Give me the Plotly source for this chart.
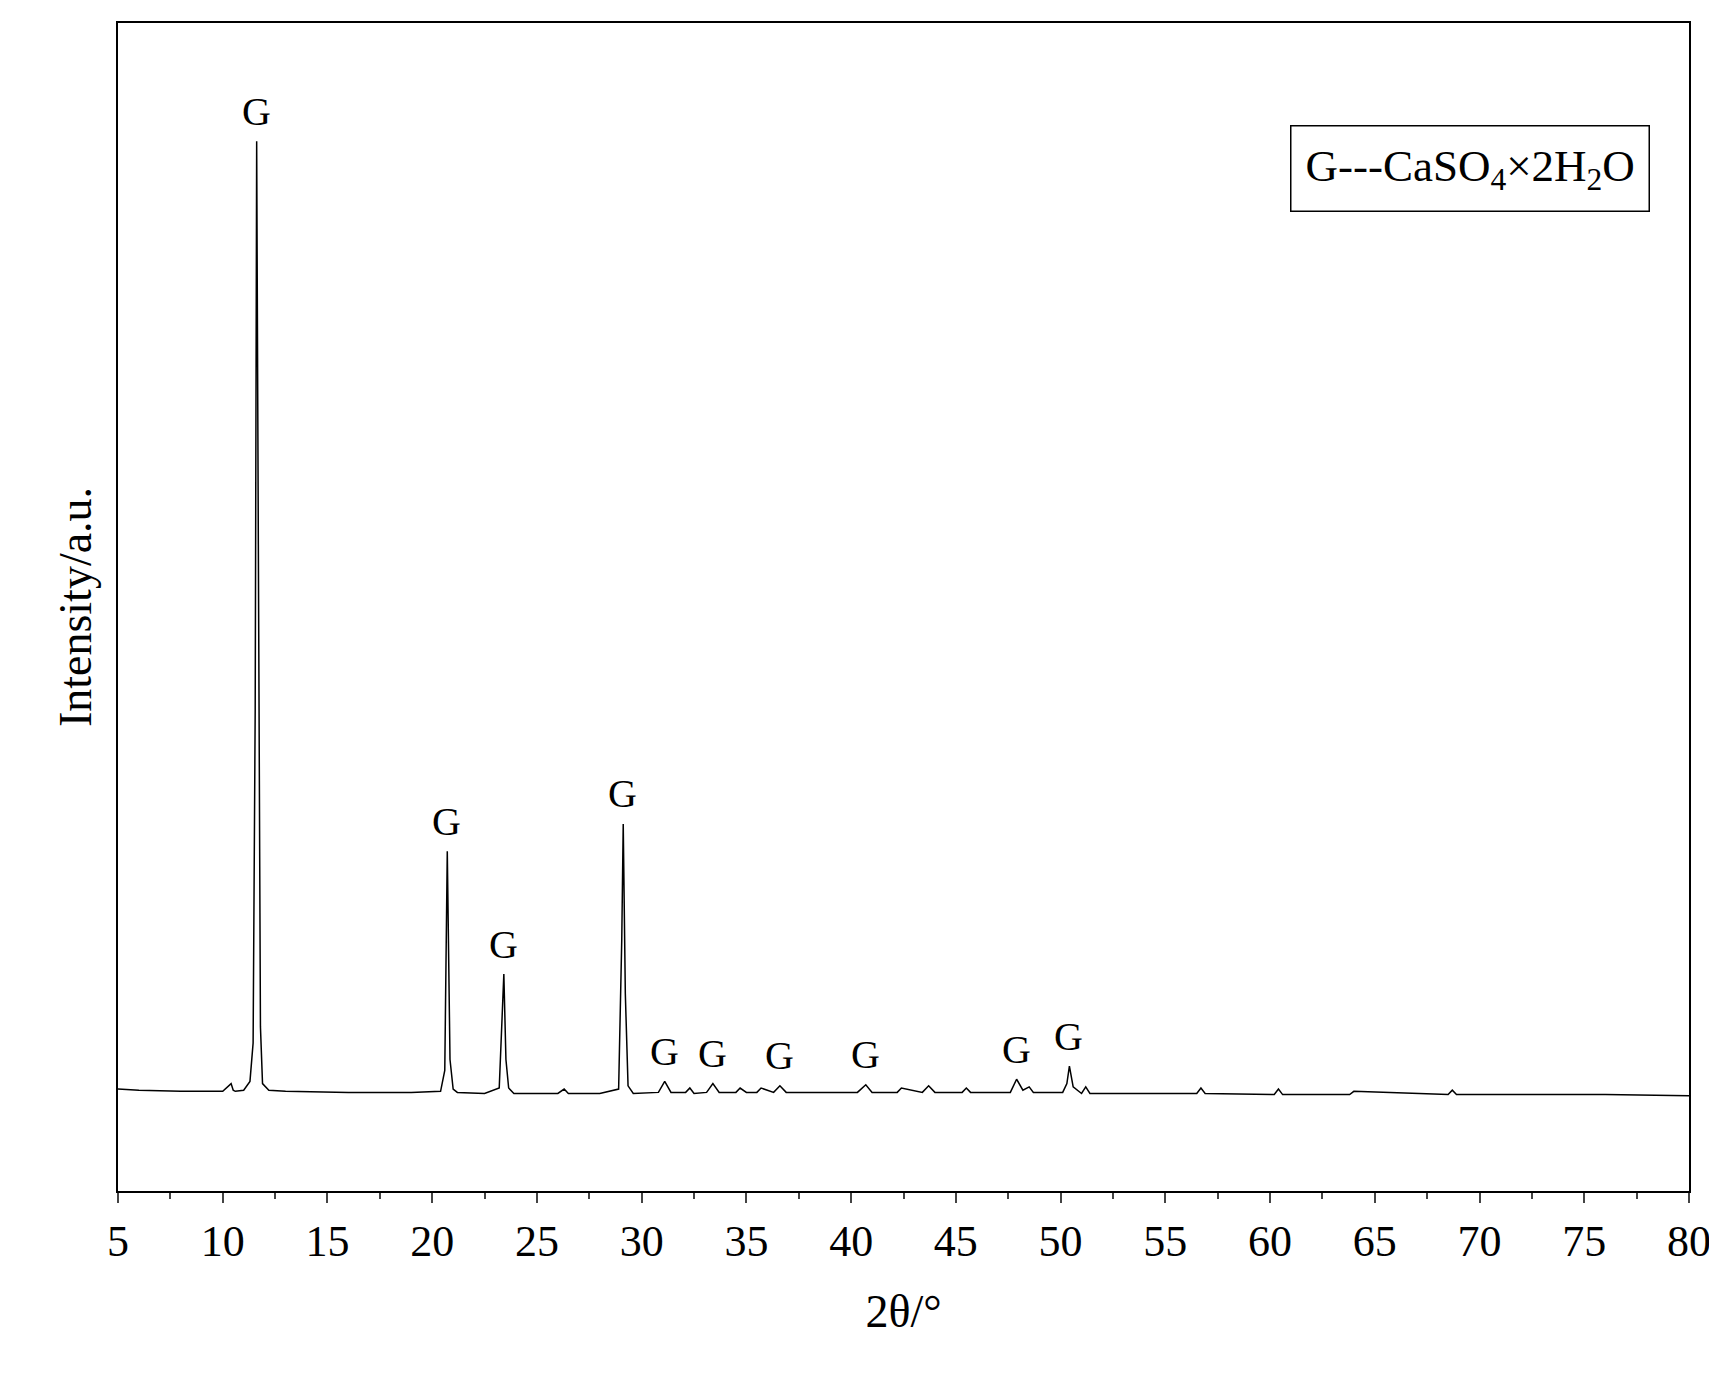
import plotly.graph_objects as go

two_theta = [5.0, 6.0, 8.0, 10.0, 10.4, 10.5, 10.6, 11.0, 11.3, 11.45, 11.55, 11.62, 11.7, 11.8, 11.9, 12.2, 13.0,
             16.0, 19.0, 20.4, 20.6, 20.72, 20.85, 21.0, 21.2, 22.5, 23.2, 23.32, 23.42, 23.52, 23.65, 23.9,
             26.0, 26.3, 26.5, 28.0, 28.9, 29.05, 29.12, 29.22, 29.35, 29.6, 30.8, 31.1, 31.4, 32.1, 32.3, 32.5,
             33.1, 33.4, 33.7, 34.5, 34.7, 35.0, 35.5, 35.7, 36.3, 36.6, 36.9, 40.3, 40.7, 41.0, 42.2, 42.4,
             43.4, 43.7, 44.0, 45.3, 45.5, 45.7, 47.6, 47.9, 48.2, 48.5, 48.7, 50.1, 50.3, 50.42, 50.6, 51.0,
             51.2, 51.4, 54.0, 56.5, 56.7, 56.9, 60.2, 60.4, 60.6, 63.8, 64.0, 68.5, 68.7, 68.9, 72.0, 76.0, 80.0]
intensity = [3, 2, 1, 1, 8, 2, 1, 2, 10, 45, 350, 868, 500, 60, 8, 2, 1,
             0, 0, 1, 20, 220, 30, 3, 0, -1, 4, 60, 108, 30, 4, -1,
             -1, 3, -1, -1, 3, 140, 245, 90, 6, -1, 0, 10, 0, 0, 4, -1,
             0, 8, 0, 0, 4, 0, 0, 4, 0, 6, 0, 0, 7, 0, 0, 4,
             0, 6, 0, 0, 4, 0, 0, 12, 2, 5, 0, 0, 8, 24, 5, -1,
             5, -1, -1, -1, 4, -1, -2, 3, -2, -2, 1, -2, 2, -2, -2, -2, -3]

label_x = [11.6, 20.7, 23.4, 29.1, 31.1, 33.4, 36.6, 40.7, 47.9, 50.4]
label_y = [868, 220, 108, 245, 10, 8, 6, 7, 12, 24]
label_text = ["G"] * len(label_x)

fig = go.Figure()
fig.add_trace(go.Scatter(x=two_theta, y=intensity, mode="lines",
                         line=dict(color="black", width=1.5), showlegend=False))
for x, y, t in zip(label_x, label_y, label_text):
    fig.add_annotation(x=x, y=y, text=t, showarrow=False, yshift=30,
                       font=dict(family="Liberation Serif", size=40, color="black"))

fig.add_annotation(xref="paper", yref="paper", x=0.975, y=0.913, xanchor="right", yanchor="top",
                   text="G---CaSO<sub>4</sub>×2H<sub>2</sub>O", showarrow=False,
                   font=dict(family="Liberation Serif", size=45, color="black"),
                   bordercolor="black", borderwidth=1.5, borderpad=14, bgcolor="white")

fig.update_layout(
    width=1717, height=1390, plot_bgcolor="white", paper_bgcolor="white",
    margin=dict(l=110, r=36, t=15, b=207),
    font=dict(family="Liberation Serif", size=44, color="black"),
    xaxis=dict(range=[5, 80], tick0=5, dtick=5, ticks="outside", ticklen=10, tickwidth=1.5,
               showline=True, linecolor="black", linewidth=1.5, mirror=True, showgrid=False, zeroline=False,
               minor=dict(dtick=2.5, ticks="outside", ticklen=6, tickwidth=1.5),
               title=dict(text="2θ/°", font=dict(size=46), standoff=30)),
    yaxis=dict(range=[-90, 976], showticklabels=False, ticks="", showline=True, linecolor="black",
               linewidth=1.5, mirror=True, showgrid=False, zeroline=False,
               title=dict(text="Intensity/a.u.", font=dict(size=46), standoff=10)),
)
fig.write_html("out.html")
